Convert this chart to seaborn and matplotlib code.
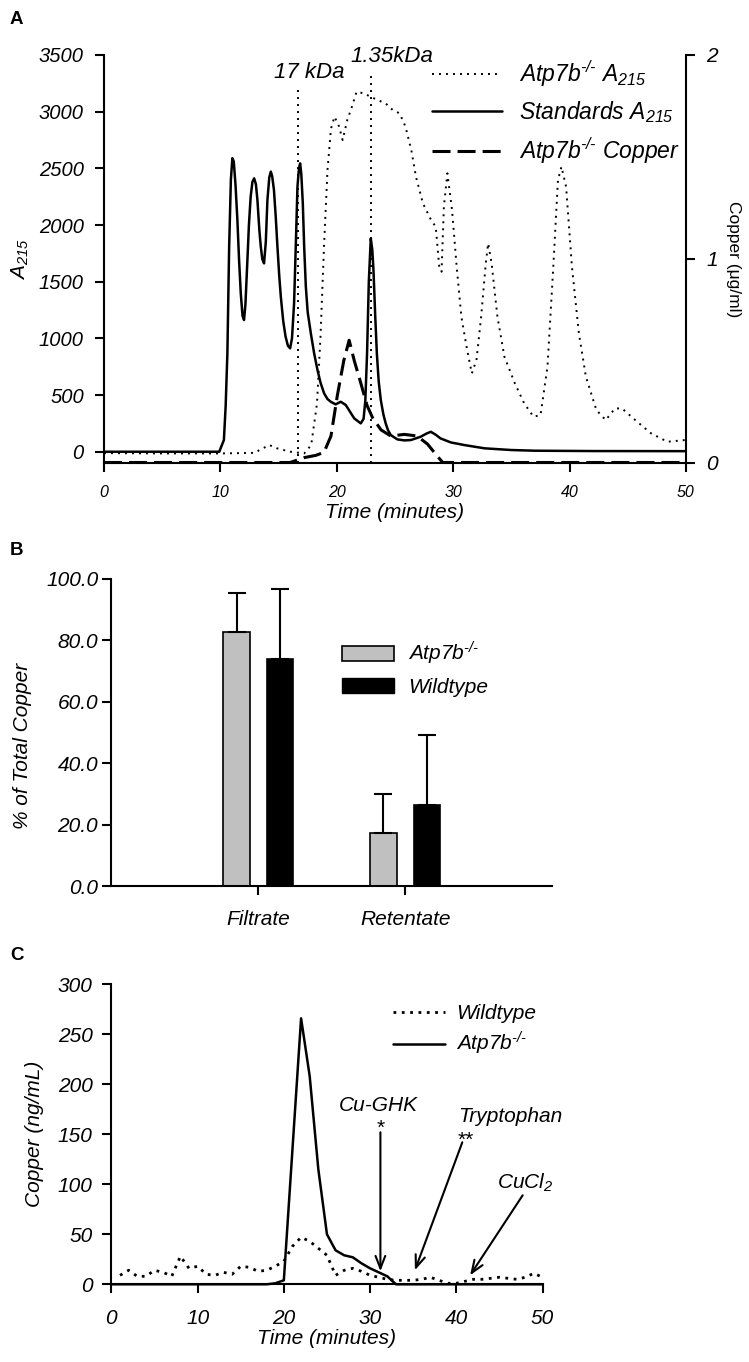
import numpy as np
import pandas as pd
import matplotlib
matplotlib.use("Agg")
import matplotlib.pyplot as plt
import seaborn as sns
from matplotlib.lines import Line2D
from matplotlib.patches import Patch

# ── Data: panel A (size-exclusion chromatogram) ──────────────────────────────
std_time = [0, 9.9, 10.3, 10.45, 10.6, 10.75, 10.9, 11.03, 11.15, 11.3, 11.46, 11.6, 11.75,
            11.9, 12.03, 12.15, 12.32, 12.45, 12.6, 12.75, 12.9, 13.05, 13.18, 13.35, 13.47,
            13.6, 13.75, 13.9, 14.04, 14.2, 14.33, 14.45, 14.6, 14.75, 14.9, 15.05, 15.19,
            15.4, 15.6, 15.8, 15.99, 16.15, 16.33, 16.5, 16.62, 16.75, 16.85, 16.95, 17.08,
            17.2, 17.34, 17.5, 17.77, 18.05, 18.34, 18.6, 18.91, 19.2, 19.48, 19.9, 20.34,
            20.77, 21.5, 22.06, 22.3, 22.45, 22.6, 22.75, 22.92, 23.05, 23.15, 23.3, 23.44,
            23.6, 23.78, 24.0, 24.2, 24.4, 24.64, 25.2, 25.8, 26.36, 27.2, 27.7, 28.08, 28.5,
            28.9, 29.8, 30.95, 32.7, 35, 37, 42, 50]
std_a215 = [0, 0, 103, 400, 868, 1800, 2400, 2590, 2560, 2350, 2044, 1700, 1397,
            1200, 1162, 1300, 1691, 2000, 2250, 2380, 2412, 2360, 2221, 1950, 1809,
            1700, 1662, 1850, 2221, 2420, 2471, 2430, 2309, 2080, 1809, 1560, 1368,
            1150, 1015, 935, 912, 1000, 1309, 1900, 2338, 2500, 2544, 2450, 2191,
            1800, 1456, 1230, 1044, 870, 721, 610, 515, 465, 441, 418, 441,
            412, 294, 250, 290, 450, 868, 1500, 1882, 1780, 1603, 1200, 868,
            620, 456, 330, 250, 190, 147, 109, 100, 103, 132, 160, 176, 150,
            118, 82, 59, 30, 15, 9, 6, 5]

ko_time = [0, 5, 10, 12.9, 14.2, 14.9, 16.0, 17.2, 17.8, 18.3, 18.6, 18.9, 19.2, 19.5,
           19.8, 20.2, 20.5, 20.9, 21.3, 21.7, 22.3, 22.9, 23.5, 24.2, 24.8, 25.4, 25.9,
           26.4, 26.8, 27.4, 28.1, 28.5, 28.8, 29.0, 29.2, 29.5, 29.9, 30.3, 30.7, 31.2,
           31.6, 32.0, 32.4, 32.8, 33.0, 33.3, 33.8, 34.4, 35.3, 36.1, 36.9, 37.5, 38.1,
           38.6, 39.0, 39.3, 39.7, 40.2, 40.8, 41.4, 42.3, 43.1, 43.9, 44.5, 45.8, 47.0,
           48.4, 49.9]
ko_a215 = [-12, -15, -15, -10, 59, 29, 0, -15, 59, 426, 1015, 1809, 2485, 2850,
           2956, 2868, 2750, 2926, 3044, 3176, 3162, 3132, 3103, 3073, 3015, 2985, 2868,
           2662, 2426, 2191, 2044, 1985, 1632, 1588, 2162, 2456, 2132, 1632, 1191, 897,
           691, 809, 1191, 1662, 1838, 1662, 1191, 838, 603, 426, 309, 323, 750,
           1632, 2397, 2515, 2338, 1632, 1044, 662, 368, 279, 382, 382, 265, 162,
           88, 103]

cu_time = [0, 16.0, 17.2, 18.2, 18.9, 19.5, 20.05, 20.6, 21.06, 21.5, 22.06, 22.6, 23.07,
           23.8, 24.64, 25.8, 26.9, 27.8, 28.65, 29.1, 50]
cu_ugml = [0, 0, 0.024, 0.035, 0.05, 0.13, 0.33, 0.50, 0.60, 0.50, 0.39, 0.28, 0.22,
           0.16, 0.13, 0.138, 0.13, 0.09, 0.03, 0, 0]

marker_times = [16.7, 22.95]
marker_tops = [3191, 3338]
marker_labels = ["17 kDa", "1.35kDa"]

# ── Data: panel B (ultrafiltration) ──────────────────────────────────────────
fractions = ["Filtrate", "Retentate"]
atp7b_pct = [82.8, 17.4]
atp7b_err = [12.5, 12.6]
wt_pct = [73.8, 26.4]
wt_err = [22.9, 22.8]

# ── Data: panel C (copper per fraction) ──────────────────────────────────────
c_time = list(range(0, 51))
c_atp7b = [0] * 19 + [1, 4, 135, 266, 208, 115, 50, 34, 29, 27, 21, 16, 12, 8, 0] + [0] * 17
wt_time = list(range(1, 51))
c_wt = [9, 14, 8, 8, 14, 12, 8, 28, 16, 18, 10, 9, 12, 10, 18, 17, 13, 14, 18, 23,
        38, 47, 43, 36, 29, 9, 14, 16, 13, 9, 7, 5, 4, 4, 4, 5, 7, 4, 1, 1,
        3, 5, 5, 6, 7, 6, 5, 7, 11, 7]

KO = r"Atp7b$^{\text{-/-}}$"

# ── Style ────────────────────────────────────────────────────────────────────
sns.set_style("ticks")
plt.rcParams["font.family"] = ["Liberation Sans", "DejaVu Sans"]
plt.rcParams["font.style"] = "italic"
plt.rcParams["mathtext.fontset"] = "custom"
plt.rcParams["mathtext.rm"] = "Liberation Sans:italic"
plt.rcParams["mathtext.it"] = "Liberation Sans:italic"
plt.rcParams["mathtext.sf"] = "Liberation Sans"
plt.rcParams["mathtext.bf"] = "Liberation Sans:bold"
plt.rcParams["text.color"] = "black"
plt.rcParams["axes.labelcolor"] = "black"
plt.rcParams["axes.linewidth"] = 1.5
plt.rcParams["axes.edgecolor"] = "black"
for a in ("x", "y"):
    plt.rcParams[f"{a}tick.major.width"] = 1.5
    plt.rcParams[f"{a}tick.major.size"] = 6.5
    plt.rcParams[f"{a}tick.color"] = "black"
    plt.rcParams[f"{a}tick.labelcolor"] = "black"
    plt.rcParams[f"{a}tick.direction"] = "out"

W, H = 749, 1362
fig = plt.figure(figsize=(W / 100, H / 100), dpi=100)


def box(l, t, r, b):
    return [l / W, 1 - b / H, (r - l) / W, (b - t) / H]


DOT = (0, (1, 2.6))

# ── Panel A ──────────────────────────────────────────────────────────────────
axA = fig.add_axes(box(104, 55, 686, 462.5))
axA2 = axA.twinx()

sns.lineplot(x=ko_time, y=ko_a215, ax=axA, color="k", lw=1.4, linestyle=DOT,
             estimator=None, sort=False)
sns.lineplot(x=std_time, y=std_a215, ax=axA, color="k", lw=1.8,
             estimator=None, sort=False)
axA.vlines(marker_times, -95, marker_tops, colors="k", linestyles=[DOT], lw=1.4)
axA.text(17.6, 3293, marker_labels[0], ha="center", va="baseline", fontsize=16)
axA.text(24.7, 3439, marker_labels[1], ha="center", va="baseline", fontsize=16,
         clip_on=False)

sns.lineplot(x=cu_time, y=cu_ugml, ax=axA2, color="k", lw=2.2,
             linestyle=(0, (5.9, 2.3)), estimator=None, sort=False, clip_on=False)

axA.set_xlim(0, 50)
axA.set_ylim(-95, 3500)
axA.set_xticks(range(0, 51, 10))
axA.set_yticks(range(0, 3501, 500))
axA.tick_params(axis="x", labelsize=11.5, pad=10)
axA.tick_params(axis="y", labelsize=14.5, pad=8)
axA.set_xlabel("Time (minutes)", fontsize=15, labelpad=2)
axA.set_ylabel(r"$\mathsf{A_{215}}$", fontsize=15, labelpad=6)
axA2.set_ylim(0, 2)
axA2.set_yticks([0, 1, 2])
axA2.tick_params(axis="y", labelsize=15, pad=8)
axA2.set_ylabel("Copper (μg/ml)", fontsize=12.5, fontstyle="normal", rotation=270,
                labelpad=17)
for s in ("top", "right"):
    axA.spines[s].set_visible(False)
for s in ("top", "left", "bottom"):
    axA2.spines[s].set_visible(False)

handlesA = [Line2D([], [], color="k", lw=1.4, linestyle=DOT),
            Line2D([], [], color="k", lw=1.8),
            Line2D([], [], color="k", lw=2.2, linestyle=(0, (5.9, 2.3)))]
labelsA = [KO + r" A$_{215}$", r"Standards A$_{215}$", KO + " Copper"]
axA2.legend(handlesA, labelsA, loc="upper left", bbox_to_anchor=(431.7 / W, 1 - 58 / H),
            bbox_transform=fig.transFigure, frameon=False, fontsize=16.5,
            handlelength=3.05, handletextpad=0.75, labelspacing=0.45,
            borderpad=0, borderaxespad=0)

# ── Panel B ──────────────────────────────────────────────────────────────────
axB = fig.add_axes(box(111.4, 579, 552, 886))
dfB = pd.DataFrame({
    "fraction": fractions * 2,
    "pct": atp7b_pct + wt_pct,
    "genotype": ["Atp7b"] * 2 + ["Wildtype"] * 2,
})
grey, black = "#c0c0c0", "#000000"
sns.barplot(data=dfB, x="fraction", y="pct", hue="genotype", palette=[grey, black],
            width=0.59, gap=0.39, edgecolor="k", linewidth=1.2, errorbar=None,
            legend=False, ax=axB)
bars = sorted(axB.patches, key=lambda p: p.get_x())
errs = [atp7b_err[0], wt_err[0], atp7b_err[1], wt_err[1]]
for p, e in zip(bars, errs):
    xc = p.get_x() + p.get_width() / 2
    axB.errorbar(xc, p.get_height(), yerr=[[0], [e]], fmt="none", ecolor="k",
                 elinewidth=1.5, capsize=6.5, capthick=1.5, zorder=1)
axB.set_xlim(-1, 2)
axB.set_ylim(0, 100)
axB.set_yticks(range(0, 101, 20))
axB.set_yticklabels([f"{v:.1f}" for v in range(0, 101, 20)])
axB.tick_params(axis="y", labelsize=15, pad=3)
axB.tick_params(axis="x", labelsize=15, pad=11)
axB.set_xlabel("")
axB.set_ylabel("% of Total Copper", fontsize=15)
axB.yaxis.set_label_coords(-0.18, 0.455)
sns.despine(ax=axB)
handlesB = [Patch(facecolor=grey, edgecolor="k", lw=1.2), Patch(facecolor=black, edgecolor="k")]
axB.legend(handlesB, [KO, "Wildtype"], loc="upper left",
           bbox_to_anchor=(341.7 / W, 1 - 640 / H), bbox_transform=fig.transFigure,
           frameon=False, fontsize=15, handlelength=2.5, handleheight=0.72,
           handletextpad=0.7, labelspacing=0.5, borderpad=0, borderaxespad=0)

# ── Panel C ──────────────────────────────────────────────────────────────────
axC = fig.add_axes(box(111.4, 984.3, 542.5, 1284.3))
sns.lineplot(x=wt_time, y=c_wt, ax=axC, color="k", lw=2, linestyle=(0, (1, 2)),
             estimator=None, sort=False)
sns.lineplot(x=c_time, y=c_atp7b, ax=axC, color="k", lw=1.8, estimator=None, sort=False,
             clip_on=False)
axC.set_xlim(0, 50)
axC.set_ylim(0, 300)
axC.set_xticks(range(0, 51, 10))
axC.set_yticks(range(0, 301, 50))
axC.tick_params(axis="both", labelsize=15)
axC.tick_params(axis="x", pad=11)
axC.tick_params(axis="y", pad=7)
axC.set_xlabel("Time (minutes)", fontsize=15, labelpad=1)
axC.set_ylabel("Copper (ng/mL)", fontsize=15, labelpad=10)
sns.despine(ax=axC)

arrow = dict(arrowstyle="->,head_length=0.9,head_width=0.35", lw=1.5, color="k",
             shrinkA=0, shrinkB=0)
axC.annotate("", xy=(31.2, 13), xytext=(31.2, 152), arrowprops=arrow)
axC.annotate("", xy=(35.2, 14), xytext=(40.7, 142), arrowprops=arrow)
axC.annotate("", xy=(41.6, 9), xytext=(47.7, 89), arrowprops=arrow)
axC.text(31.0, 179, "Cu-GHK", ha="center", va="center", fontsize=15)
axC.text(31.2, 156, "*", ha="center", va="center", fontsize=15, fontstyle="normal")
axC.text(46.3, 168, "Tryptophan", ha="center", va="center", fontsize=15, clip_on=False)
axC.text(41.1, 144, "**", ha="center", va="center", fontsize=15, fontstyle="normal")
axC.text(48.0, 101, r"CuCl$_2$", ha="center", va="center", fontsize=15)

handlesC = [Line2D([], [], color="k", lw=2, linestyle=(0, (1, 2))),
            Line2D([], [], color="k", lw=1.8)]
axC.legend(handlesC, ["Wildtype", KO], loc="upper left",
           bbox_to_anchor=(392.7 / W, 1 - 1004 / H), bbox_transform=fig.transFigure,
           frameon=False, fontsize=15, handlelength=2.5, handletextpad=0.55,
           labelspacing=0.35, borderpad=0, borderaxespad=0)

# ── Panel letters ────────────────────────────────────────────────────────────
for letter, top in (("A", 11), ("B", 542), ("C", 947)):
    fig.text(10 / W, 1 - top / H, letter, fontsize=13.5, fontweight="bold",
             fontstyle="normal", va="top", ha="left")

fig.savefig("out.png", dpi=100)
